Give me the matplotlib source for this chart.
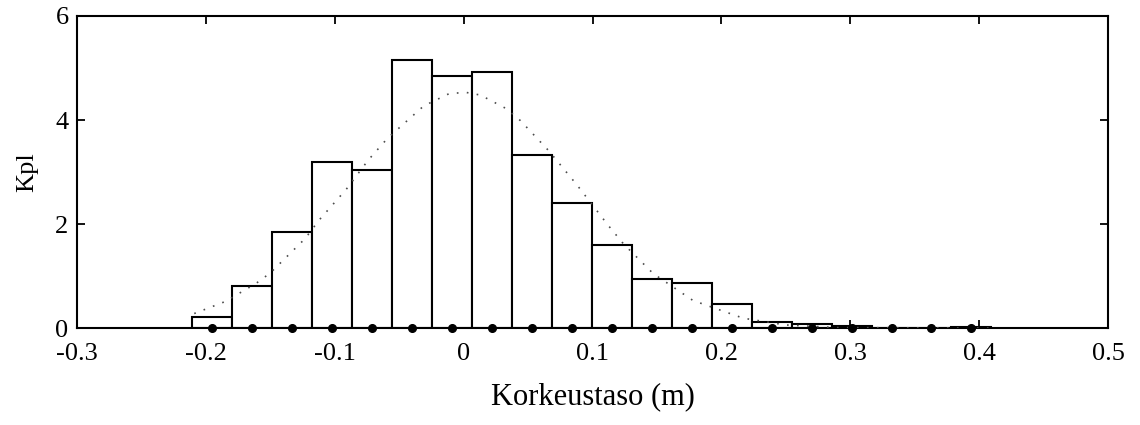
import matplotlib
matplotlib.use('Agg')
import matplotlib.pyplot as plt
import numpy as np

plt.rcParams['font.family'] = ['Liberation Serif', 'DejaVu Serif']

# histogram of water levels, bin centres and heights
bin_width = 0.031
bin_centers = [-0.195, -0.164, -0.133, -0.102, -0.071, -0.040, -0.009, 0.022,
               0.053, 0.084, 0.115, 0.146, 0.177, 0.208, 0.239, 0.270,
               0.301, 0.332, 0.363, 0.394]
counts = [0.21, 0.81, 1.84, 3.19, 3.03, 5.15, 4.85, 4.93, 3.32, 2.41,
          1.59, 0.94, 0.86, 0.46, 0.115, 0.08, 0.045, 0.0, 0.0, 0.02]

# fitted distribution (dotted)
fit_x = [-0.209, -0.185, -0.161, -0.150, -0.123, -0.112, -0.091, -0.074,
         -0.059, -0.031, -0.011, 0.002, 0.013, 0.033, 0.044, 0.066, 0.088,
         0.112, 0.124, 0.147, 0.178, 0.217, 0.250, 0.290, 0.410]
fit_y = [0.28, 0.51, 0.86, 1.06, 1.72, 2.08, 2.67, 3.23, 3.65, 4.27, 4.51,
         4.53, 4.48, 4.22, 3.99, 3.41, 2.75, 1.98, 1.62, 1.05, 0.53, 0.19,
         0.06, 0.01, 0.0]

xticks = [-0.3, -0.2, -0.1, 0, 0.1, 0.2, 0.3, 0.4, 0.5]
xticklabels = ['-0.3', '-0.2', '-0.1', '0', '0.1', '0.2', '0.3', '0.4', '0.5']
yticks = [0, 2, 4, 6]

fig = plt.figure(figsize=(11.4, 4.25), dpi=100)
ax = fig.add_axes([0.0675, 0.228, 0.9045, 0.7344])

ax.bar(bin_centers, counts, width=bin_width, facecolor='white',
       edgecolor='black', linewidth=1.5, zorder=2)
ax.plot(fit_x, fit_y, color='0.3', linewidth=1.2, linestyle=(0, (1, 5)),
        zorder=3)
ax.plot(bin_centers, np.zeros(len(bin_centers)), 'o', color='black',
        markersize=5.5, clip_on=False, zorder=4)

ax.set_xlim(-0.3, 0.5)
ax.set_ylim(0, 6)
ax.set_xticks(xticks)
ax.set_xticklabels(xticklabels)
ax.set_yticks(yticks)
ax.tick_params(direction='in', length=6, width=1.3, top=True, right=True,
               labelsize=19)
ax.tick_params(axis='x', pad=11)
ax.tick_params(axis='y', pad=6)
for s in ax.spines.values():
    s.set_linewidth(1.5)

ax.set_xlabel('Korkeustaso (m)', fontsize=22, labelpad=12)
ax.set_ylabel('Kpl', fontsize=19, labelpad=12)

fig.savefig('out.png', dpi=100)
